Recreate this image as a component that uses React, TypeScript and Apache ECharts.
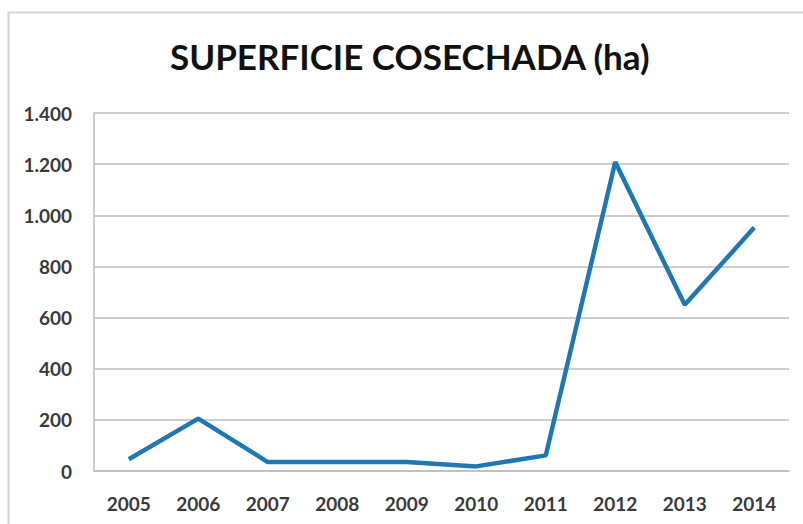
import React, { useEffect, useRef } from "react";
import * as echarts from "echarts";

const TITLE = "SUPERFICIE COSECHADA (ha)";
const years = ["2005", "2006", "2007", "2008", "2009", "2010", "2011", "2012", "2013", "2014"];
const superficie = [46, 205, 35, 35, 35, 18, 61, 1208, 650, 952];
const yMin = 0;
const yMax = 1400;
const yStep = 200;

const fmt = (v: number) => String(v).replace(/\B(?=(\d{3})+(?!\d))/g, ".");

export default function App() {
  const ref = useRef<HTMLDivElement>(null);
  useEffect(() => {
    if (!ref.current) return;
    const chart = echarts.init(ref.current, undefined, { renderer: "svg" });
    chart.setOption({
      animation: false,
      backgroundColor: "#ffffff",
      title: {
        text: TITLE,
        left: 165,
        top: 33,
        textStyle: { fontFamily: "Lato", fontWeight: "bold", fontSize: 35, color: "#111111" },
      },
      graphic: [
        {
          type: "rect",
          shape: { x: 8.5, y: 12.5, width: 820, height: 540 },
          style: { fill: "none", stroke: "#d4d4d4", lineWidth: 2 },
          silent: true,
        },
      ],
      grid: { left: 94, right: 14, top: 113, bottom: 53 },
      xAxis: {
        type: "category",
        data: years,
        boundaryGap: true,
        axisLine: { show: true, lineStyle: { color: "#bdbdbd", width: 1.5 } },
        axisTick: { show: false },
        axisLabel: {
          margin: 23,
          fontFamily: "Lato",
          fontWeight: "bold",
          fontSize: 19,
          color: "#3a3a3a",
        },
      },
      yAxis: {
        type: "value",
        min: yMin,
        max: yMax,
        interval: yStep,
        axisLine: { show: true, lineStyle: { color: "#bdbdbd", width: 1.5 } },
        axisTick: { show: false },
        splitLine: { show: true, lineStyle: { color: "#bdbdbd", width: 1.5 } },
        axisLabel: {
          margin: 22,
          fontFamily: "Lato",
          fontWeight: "bold",
          fontSize: 19,
          color: "#3a3a3a",
          formatter: (v: number) => fmt(v),
        },
      },
      series: [
        {
          type: "line",
          data: superficie,
          symbol: "none",
          lineStyle: { color: "#1f77b4", width: 4.5 },
        },
      ],
    });
    return () => chart.dispose();
  }, []);
  return <div ref={ref} style={{ width: 803, height: 524, position: "absolute", left: 0, top: 0 }} />;
}
